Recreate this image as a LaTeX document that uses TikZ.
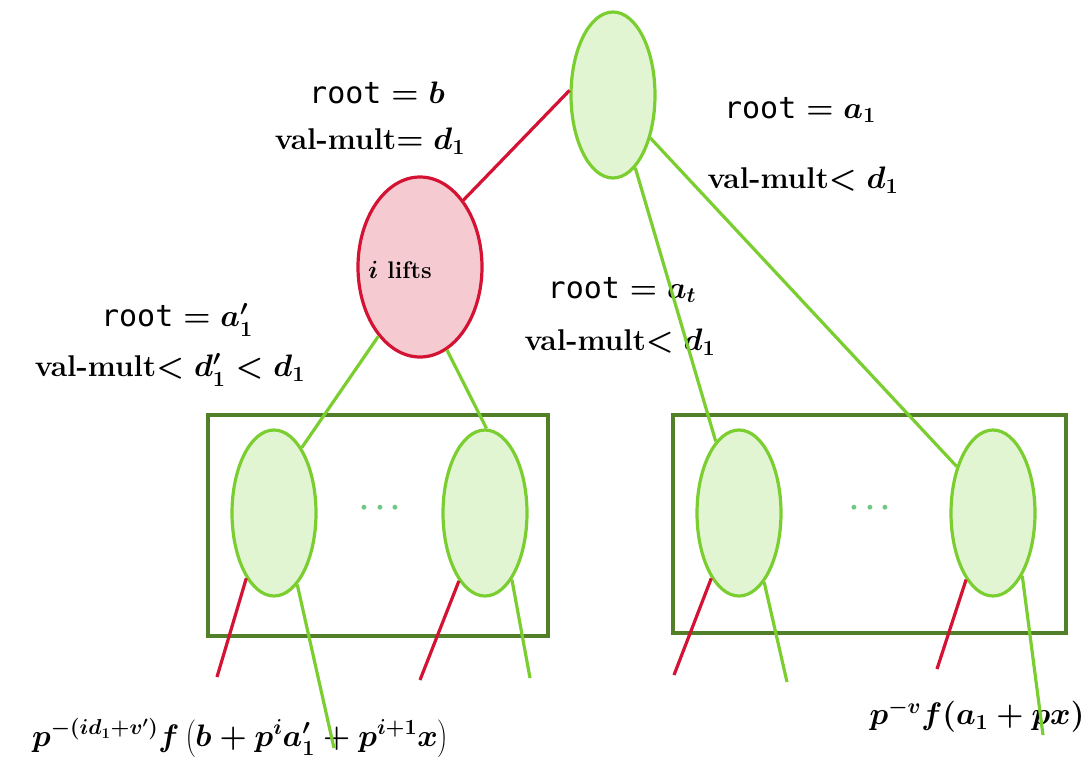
\documentclass[tikz,border=0pt]{standalone}
\usepackage{fontspec}
\usetikzlibrary{shapes.geometric}
\newfontfamily\rootfont{DejaVu Sans Mono}
\definecolor{lgfill}{RGB}{226,245,210}
\definecolor{gstroke}{RGB}{122,206,48}
\definecolor{rstroke}{RGB}{212,18,52}
\definecolor{rfill}{RGB}{245,202,208}
\definecolor{boxg}{RGB}{82,128,40}
\definecolor{dotc}{RGB}{110,200,130}
\newcommand{\rt}{\mbox{\rootfont\mdseries root}}
\newcommand{\Lbl}[1]{\scalebox{1.25}{#1}}
\begin{document}
\begin{tikzpicture}[x=1pt,y=-1pt,
  gnode/.style={ellipse,draw=gstroke,fill=lgfill,line width=3.2pt,minimum width=84pt,minimum height=166pt,inner sep=0pt},
  rnode/.style={ellipse,draw=rstroke,fill=rfill,line width=3.2pt,minimum width=124pt,minimum height=180pt,inner sep=0pt},
  grp/.style={draw=boxg,line width=3.2pt,rectangle,inner sep=0pt},
  gline/.style={gstroke,line width=3.2pt},
  rline/.style={rstroke,line width=3.2pt},
  lbl/.style={font=\fontsize{24}{29}\selectfont\bfseries\boldmath,inner sep=0pt},
  dots/.style={text=dotc,font=\fontsize{24}{29}\selectfont\boldmath,inner sep=0pt}]
\useasboundingbox (0,0) rectangle (1092,766);
% groups
\node[grp,minimum width=340pt,minimum height=221pt] (boxL) at (378,525.5) {};
\node[grp,minimum width=393pt,minimum height=218pt] (boxR) at (869.5,524) {};
% nodes
\node[gnode] (top) at (613,95) {};
\node[rnode] (red) at (420,267) {};
\node[gnode] (e1) at (274,513) {};
\node[gnode] (e2) at (485,513) {};
\node[gnode] (e3) at (739,513) {};
\node[gnode] (e4) at (993,513) {};
\node[lbl] (lifts) at (400,270) {$i$ lifts};
\node[dots] (d1) at (380,508) {\Lbl{$\cdots$}};
\node[dots] (d2) at (870,508) {\Lbl{$\cdots$}};
% labels
\node[lbl] (l1a) at (377,93) {\Lbl{$\rt = b$}};
\node[lbl] (l1b) at (370,141) {\Lbl{val-mult$= d_1$}};
\node[lbl] (l2a) at (800,110) {\Lbl{$\rt = a_1$}};
\node[lbl] (l2b) at (803,180) {\Lbl{val-mult$< d_1$}};
\node[lbl] (l3a) at (177,320) {\Lbl{$\rt = a_1'$}};
\node[lbl] (l3b) at (170,370) {\Lbl{val-mult$< d_1' < d_1$}};
\node[lbl] (l4a) at (622,290) {\Lbl{$\rt = a_t$}};
\node[lbl] (l4b) at (620,342) {\Lbl{val-mult$< d_1$}};
\node[lbl] (f1) at (240,738) {\Lbl{$p^{-(id_1+v')}f\left(b+p^i a_1'+p^{i+1}x\right)$}};
\node[lbl] (f2) at (977,716) {\Lbl{$p^{-v}f(a_1+px)$}};
% free ends
\coordinate (c1r) at (217,677);
\coordinate (c1g) at (334,748);
\coordinate (c2r) at (420,680);
\coordinate (c2g) at (530,678);
\coordinate (c3r) at (674,675);
\coordinate (c3g) at (787,682);
\coordinate (c4r) at (937,669);
\coordinate (c4g) at (1043,735);
% edges
\draw[rline] (top.174) -- (red.57);
\draw[gline] (red.239) -- (e1.67);
\draw[gline] (red.288) -- (e2.89);
\draw[gline] (top.287) -- (e3.108);
\draw[gline] (top.311) -- (e4.128);
\draw[rline] (e1.247) -- (c1r);
\draw[gline] (e1.288) -- (c1g);
\draw[rline] (e2.249) -- (c2r);
\draw[gline] (e2.292) -- (c2g);
\draw[rline] (e3.247) -- (c3r);
\draw[gline] (e3.290) -- (c3g);
\draw[rline] (e4.248) -- (c4r);
\draw[gline] (e4.295) -- (c4g);
\end{tikzpicture}
\end{document}
